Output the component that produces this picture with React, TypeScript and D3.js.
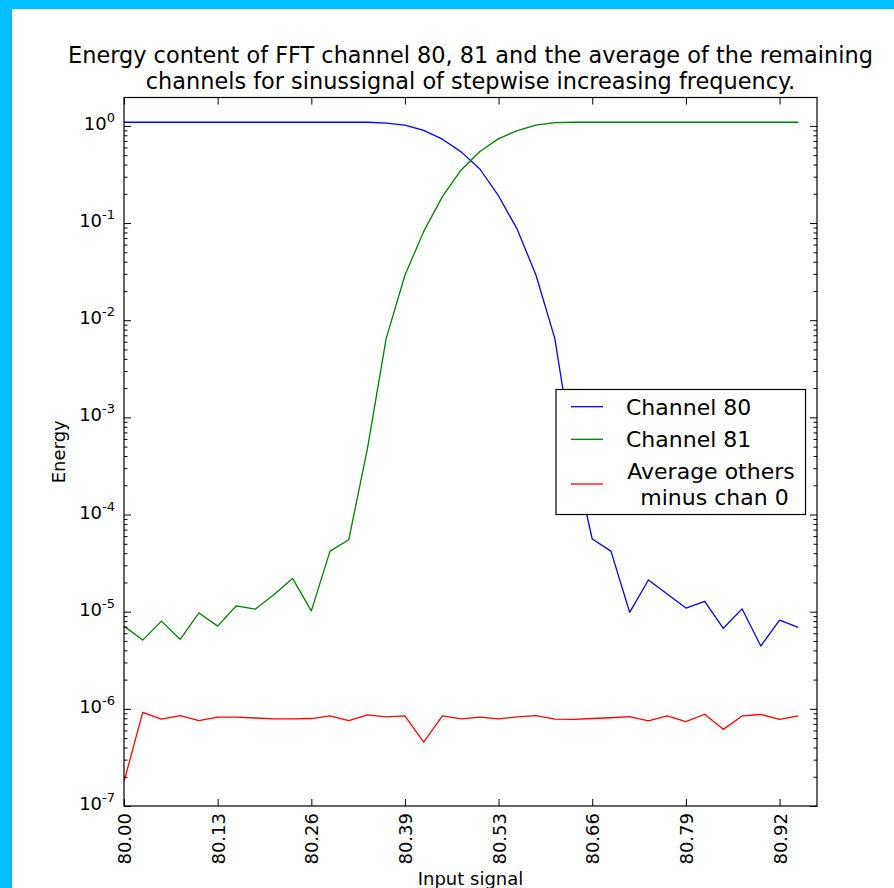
import React, { useEffect, useRef } from "react";
import * as d3 from "d3";

// input frequency of each step (80 + k/38)
const inputSignal = [
  80.0, 80.0263, 80.0526, 80.0789, 80.1053, 80.1316, 80.1579, 80.1842, 80.2105, 80.2368,
  80.2632, 80.2895, 80.3158, 80.3421, 80.3684, 80.3947, 80.4211, 80.4474, 80.4737, 80.5,
  80.5263, 80.5526, 80.5789, 80.6053, 80.6316, 80.6579, 80.6842, 80.7105, 80.7368, 80.7632,
  80.7895, 80.8158, 80.8421, 80.8684, 80.8947, 80.9211, 80.9474,
];
const xMax = 80.9737;
const xTicks = [80.0, 80.1316, 80.2632, 80.3947, 80.5263, 80.6579, 80.7895, 80.9211];
const xTickLabels = ["80.00", "80.13", "80.26", "80.39", "80.53", "80.66", "80.79", "80.92"];

const yMin = 1e-7;
const yMax = 1.96;
const yExponents = [0, -1, -2, -3, -4, -5, -6, -7];

const channel80 = [
  1.09, 1.09, 1.09, 1.09, 1.09, 1.09, 1.09, 1.09, 1.09, 1.09,
  1.09, 1.09, 1.09, 1.09, 1.07, 1.02, 0.9, 0.73, 0.54, 0.36,
  0.19, 0.086, 0.029, 0.0065, 4.0e-4, 5.6e-5, 4.2e-5, 9.85e-6, 2.12e-5, 1.52e-5,
  1.09e-5, 1.28e-5, 6.75e-6, 1.07e-5, 4.43e-6, 8.2e-6, 6.9e-6,
];
const channel81 = [
  7.1e-6, 5.1e-6, 8.0e-6, 5.2e-6, 9.7e-6, 7.1e-6, 1.15e-5, 1.06e-5, 1.49e-5, 2.2e-5,
  1.02e-5, 4.2e-5, 5.5e-5, 4.8e-4, 6.5e-3, 0.029, 0.082, 0.187, 0.352, 0.544,
  0.74, 0.895, 1.02, 1.08, 1.09, 1.09, 1.09, 1.09, 1.09, 1.09,
  1.09, 1.09, 1.09, 1.09, 1.09, 1.09, 1.09,
];
const averageOthers = [
  1.78e-7, 9.2e-7, 7.85e-7, 8.5e-7, 7.55e-7, 8.2e-7, 8.2e-7, 8.05e-7, 7.9e-7, 7.9e-7,
  7.95e-7, 8.45e-7, 7.55e-7, 8.65e-7, 8.25e-7, 8.45e-7, 4.55e-7, 8.45e-7, 7.9e-7, 8.2e-7,
  7.9e-7, 8.25e-7, 8.5e-7, 7.85e-7, 7.8e-7, 7.95e-7, 8.1e-7, 8.3e-7, 7.5e-7, 8.45e-7,
  7.4e-7, 8.8e-7, 6.15e-7, 8.45e-7, 8.75e-7, 7.8e-7, 8.45e-7,
];

const series = [
  { name: ["Channel 80"], values: channel80, color: "#0000ff" },
  { name: ["Channel 81"], values: channel81, color: "#008000" },
  { name: ["Average others", " minus chan 0"], values: averageOthers, color: "#ff0000" },
];

const titleLines = [
  "Energy content of FFT channel 80, 81 and the average of the remaining",
  "channels for sinussignal of stepwise increasing frequency.",
];

export default function App() {
  const ref = useRef<SVGSVGElement>(null);

  useEffect(() => {
    const W = 894, H = 888;
    const left = 124, right = 817, top = 97.5, bottom = 806;
    const font = "DejaVu Sans, Bitstream Vera Sans, sans-serif";

    const svg = d3.select(ref.current);
    svg.selectAll("*").remove();

    // frame of the screenshot
    svg.append("rect").attr("width", W).attr("height", H).attr("fill", "#00bfff");
    svg.append("rect").attr("x", 12).attr("y", 9).attr("width", W - 12).attr("height", H - 9).attr("fill", "#fff");

    const x = d3.scaleLinear().domain([80, xMax]).range([left, right]);
    const y = d3.scaleLog().domain([yMin, yMax]).range([bottom, top]);

    const majors = yExponents.map((e) => Math.pow(10, e));
    const minors: number[] = [];
    for (let e = -7; e <= 0; e++) {
      for (let m = 2; m <= 9; m++) {
        const v = m * Math.pow(10, e);
        if (v < yMax) minors.push(v);
      }
    }

    // lines
    const clip = svg.append("clipPath").attr("id", "plotclip");
    clip.append("rect").attr("x", left).attr("y", top).attr("width", right - left).attr("height", bottom - top);
    const plot = svg.append("g").attr("clip-path", "url(#plotclip)");
    series.forEach((s) => {
      const line = d3.line<number>()
        .x((_, i) => x(inputSignal[i]))
        .y((d) => y(d));
      plot.append("path").attr("d", line(s.values)).attr("fill", "none")
        .attr("stroke", s.color).attr("stroke-width", 1.3).attr("stroke-linejoin", "round");
    });

    // ticks on all four sides, pointing inwards
    const tickStyle = (g: any) => {
      g.select(".domain").remove();
      g.selectAll("line").attr("stroke", "#000").attr("stroke-width", 1);
    };
    svg.append("g").attr("transform", `translate(0,${bottom})`)
      .call(d3.axisBottom(x).tickValues(xTicks).tickSize(-7).tickFormat((_, i) => xTickLabels[i]))
      .call(tickStyle)
      .call((g) => g.selectAll("text")
        .attr("transform", "rotate(-90)")
        .attr("text-anchor", "end")
        .attr("x", -7).attr("y", 0).attr("dy", "0.36em")
        .attr("fill", "#000").attr("font-size", 18).attr("font-family", font));
    svg.append("g").attr("transform", `translate(0,${top})`)
      .call(d3.axisTop(x).tickValues(xTicks).tickSize(-7).tickFormat(() => ""))
      .call(tickStyle);
    svg.append("g").attr("transform", `translate(${left},0)`)
      .call(d3.axisLeft(y).tickValues(majors).tickSize(-7).tickFormat(() => ""))
      .call(tickStyle);
    svg.append("g").attr("transform", `translate(${left},0)`)
      .call(d3.axisLeft(y).tickValues(minors).tickSize(-3.5).tickFormat(() => ""))
      .call(tickStyle);
    svg.append("g").attr("transform", `translate(${right},0)`)
      .call(d3.axisRight(y).tickValues(majors).tickSize(-7).tickFormat(() => ""))
      .call(tickStyle);
    svg.append("g").attr("transform", `translate(${right},0)`)
      .call(d3.axisRight(y).tickValues(minors).tickSize(-3.5).tickFormat(() => ""))
      .call(tickStyle);

    // y tick labels 10^n
    yExponents.forEach((e) => {
      const t = svg.append("text").attr("x", left - 9).attr("y", y(Math.pow(10, e)) + 4)
        .attr("text-anchor", "end").attr("font-family", font).attr("font-size", 18).attr("fill", "#000");
      t.append("tspan").text("10");
      t.append("tspan").attr("dy", -8).attr("font-size", 13).text(String(e));
    });

    // frame
    svg.append("rect").attr("x", left).attr("y", top).attr("width", right - left).attr("height", bottom - top)
      .attr("fill", "none").attr("stroke", "#000").attr("stroke-width", 1.2);

    // title and axis labels
    titleLines.forEach((l, i) => {
      svg.append("text").attr("x", (left + right) / 2).attr("y", 63 + i * 25.5)
        .attr("text-anchor", "middle").attr("font-family", font).attr("font-size", 22.4).text(l);
    });
    svg.append("text").attr("x", (left + right) / 2).attr("y", 885)
      .attr("text-anchor", "middle").attr("font-family", font).attr("font-size", 18).text("Input signal");
    svg.append("text").attr("transform", `translate(65,${(top + bottom) / 2}) rotate(-90)`)
      .attr("text-anchor", "middle").attr("font-family", font).attr("font-size", 18).text("Energy");

    // legend
    const lg = svg.append("g");
    lg.append("rect").attr("x", 556).attr("y", 389.5).attr("width", 249.5).attr("height", 125)
      .attr("fill", "#fff").attr("stroke", "#000").attr("stroke-width", 1.2);
    const rowY = [406.7, 439.3, 484];
    series.forEach((s, i) => {
      lg.append("line").attr("x1", 571).attr("x2", 603).attr("y1", rowY[i]).attr("y2", rowY[i])
        .attr("stroke", s.color).attr("stroke-width", 1.3);
      if (s.name.length === 1) {
        lg.append("text").attr("x", 626).attr("y", rowY[i] + 8).attr("font-family", font)
          .attr("font-size", 22).text(s.name[0]);
      } else {
        s.name.forEach((n, j) => {
          lg.append("text").attr("x", 711).attr("y", 479 + j * 26).attr("text-anchor", "middle")
            .attr("font-family", font).attr("font-size", 22).attr("xml:space", "preserve").text(n);
        });
      }
    });
  }, []);

  return (
    <svg ref={ref} width={894} height={888}
      style={{ position: "absolute", left: 0, top: 0, display: "block" }} />
  );
}
